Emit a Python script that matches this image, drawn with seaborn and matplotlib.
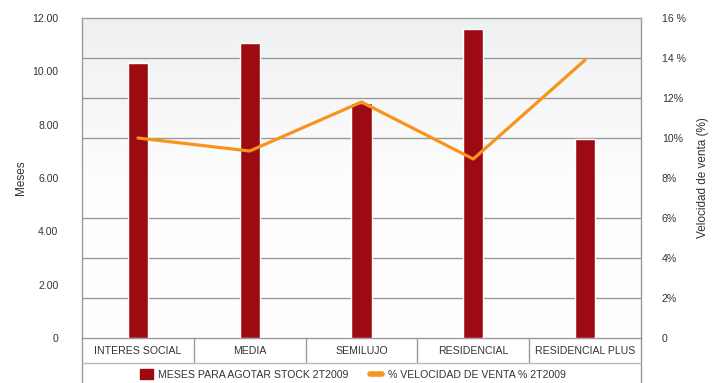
import numpy as np
import seaborn as sns
import matplotlib.pyplot as plt
from matplotlib.lines import Line2D
from matplotlib.patches import Patch
from matplotlib.ticker import MultipleLocator

# | Data |---------------------------------------------------------------------|
categorias = ["INTERES SOCIAL", "MEDIA", "SEMILUJO", "RESIDENCIAL", "RESIDENCIAL PLUS"]
meses = [10.3, 11.05, 8.8, 11.6, 7.45]
velocidad = [10.0, 9.35, 11.8, 8.95, 13.9]

meses_ticks = [0, 2, 4, 6, 8, 10, 12]
meses_labels = ["0", "2.00", "4.00", "6.00", "8.00", "10.00", "12.00"]
vel_ticks = [0, 2, 4, 6, 8, 10, 12, 14, 16]
vel_labels = ["0", "2%", "4%", "6%", "8%", "10%", "12%", "14 %", "16 %"]

BAR = "#9E0A12"
LINE = "#F7941D"
EDGE = "#9a9a9a"
TXT = "#333333"
FS = 7.6

sns.set_style("white")
plt.rcParams["font.family"] = ["Liberation Sans", "DejaVu Sans"]

fig = plt.figure(figsize=(7.23, 3.83), dpi=100)
ax = fig.add_axes([82 / 723, 45 / 383, 559 / 723, 320 / 383])

# background gradient
grad = np.linspace(1, 0, 256).reshape(-1, 1)
ax.imshow(grad, extent=[0, 1, 0, 1], transform=ax.transAxes, aspect="auto",
          cmap=sns.blend_palette(["#ffffff", "#fdfdfd", "#eff0f1"], as_cmap=True),
          zorder=0, origin="upper")

sns.barplot(x=categorias, y=meses, color=BAR, width=0.18, saturation=1, ax=ax, zorder=3)
ax.set_xlim(-0.5, len(categorias) - 0.5)
ax.set_ylim(0, 12)
ax.set_yticks(meses_ticks)
ax.set_yticklabels(meses_labels)
ax.yaxis.set_minor_locator(MultipleLocator(1.5))
ax.grid(which="minor", axis="y", color=EDGE, linewidth=1)
ax.set_axisbelow(True)
ax.tick_params(axis="y", which="both", length=0, pad=17, labelsize=FS, labelcolor=TXT)
ax.tick_params(axis="x", length=0, pad=6, labelsize=FS, labelcolor=TXT)
ax.set_ylabel("Meses", fontsize=8.5, color=TXT, labelpad=4)
for s in ax.spines.values():
    s.set_color(EDGE)
    s.set_linewidth(1)

ax2 = ax.twinx()
sns.lineplot(x=categorias, y=velocidad, color=LINE, linewidth=2.3, sort=False, ax=ax2, zorder=4)
ax2.set_ylim(0, 16)
ax2.set_yticks(vel_ticks)
ax2.set_yticklabels(vel_labels)
ax2.tick_params(axis="y", length=0, pad=15, labelsize=FS, labelcolor=TXT)
ax2.set_ylabel("Velocidad de venta (%)", fontsize=8.5, color=TXT, labelpad=8)
for s in ax2.spines.values():
    s.set_visible(False)

# table below the plot
tr = ax.transAxes
row = 25 / 320
for x in [0, 1]:
    ax.add_line(Line2D([x, x], [0, -45 / 320], transform=tr, color=EDGE, lw=1, clip_on=False))
for i in range(1, len(categorias)):
    x = i / len(categorias)
    ax.add_line(Line2D([x, x], [0, -row], transform=tr, color=EDGE, lw=1, clip_on=False))
ax.add_line(Line2D([0, 1], [-row, -row], transform=tr, color="#bbbbbb", lw=1, clip_on=False))

handles = [Patch(color=BAR, label="MESES PARA AGOTAR STOCK 2T2009"),
           Line2D([0], [0], color=LINE, lw=4, solid_capstyle="round",
                  label="% VELOCIDAD DE VENTA % 2T2009")]
fig.legend(handles=handles, loc="center", bbox_to_anchor=(353 / 723, 8.5 / 383), ncol=2,
           frameon=False, fontsize=FS, labelcolor=TXT, handlelength=1.2, handleheight=1.1,
           columnspacing=2.0, handletextpad=0.5)

fig.savefig("out.png", dpi=100)
